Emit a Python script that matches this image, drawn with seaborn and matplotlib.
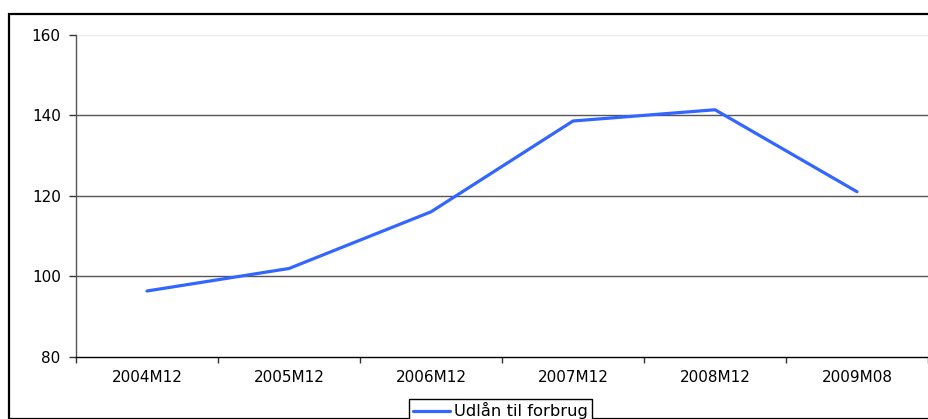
import matplotlib
matplotlib.use("Agg")
import matplotlib.pyplot as plt
from matplotlib.patches import Rectangle
from matplotlib.ticker import FixedLocator
import pandas as pd
import seaborn as sns

# Consumer lending index by period
periods = ["2004M12", "2005M12", "2006M12", "2007M12", "2008M12", "2009M08"]
udlaan = [96.3, 101.9, 116.0, 138.6, 141.4, 121.0]
series_name = "Udlån til forbrug"
y_ticks = [80, 100, 120, 140, 160]

df = pd.DataFrame({"periode": periods, "værdi": udlaan, "serie": series_name})

sns.set_theme(style="white")
plt.rcParams["font.family"] = ["DejaVu Sans"]
plt.rcParams["font.size"] = 11
plt.rcParams["text.color"] = "black"

W, H = 929, 419
fig = plt.figure(figsize=(W / 100, H / 100), dpi=100)
fig.patch.set_facecolor("white")

left, right, top, bottom = 76, 928, 35, 356.5
ax = fig.add_axes([left / W, 1 - bottom / H, (right - left) / W, (bottom - top) / H])

sns.lineplot(data=df, x="periode", y="værdi", hue="serie", palette=["#3366ff"],
             linewidth=2.3, sort=False, ax=ax, legend=False)

ax.set_xlim(-0.5, len(periods) - 0.5)
ax.set_ylim(y_ticks[0], y_ticks[-1])
ax.set_yticks(y_ticks)
ax.set_xlabel("")
ax.set_ylabel("")

# horizontal gridlines
for v in y_ticks[1:-1]:
    ax.axhline(v, color="#555555", lw=1.0, zorder=0)
ax.axhline(y_ticks[-1], color="#eeeeee", lw=1.0, zorder=0)

for s in ["top", "right"]:
    ax.spines[s].set_visible(False)
ax.spines["left"].set_color("#555555")
ax.spines["left"].set_linewidth(1.0)
ax.spines["bottom"].set_color("black")
ax.spines["bottom"].set_linewidth(1.0)

ax.tick_params(axis="y", direction="out", length=5, width=1, color="#333333",
               pad=6, labelsize=11, labelcolor="black", left=True)
ax.tick_params(axis="x", which="major", length=0, pad=10, labelsize=11,
               labelcolor="black")
ax.xaxis.set_minor_locator(FixedLocator([i - 0.5 for i in range(len(periods) + 1)]))
ax.tick_params(axis="x", which="minor", direction="out", length=4, width=1,
               color="#333333", bottom=True)

# outer chart frame
fig.patches.append(Rectangle((9.5 / W, 0), 1.2, 1 - 14 / H, transform=fig.transFigure,
                             fill=False, edgecolor="black", lw=1.6))

# legend below the plot
line = ax.get_lines()[0]
leg = fig.legend([line], [series_name], loc="upper center",
                 bbox_to_anchor=(500.5 / W, 1 - 399 / H), frameon=True,
                 fancybox=False, framealpha=1, edgecolor="black",
                 handlelength=2.3, handletextpad=0.25, borderpad=0.2,
                 fontsize=11.8, borderaxespad=0, labelcolor="black")
leg.get_frame().set_linewidth(1.0)

fig.savefig("out.png", dpi=100, facecolor="white")
